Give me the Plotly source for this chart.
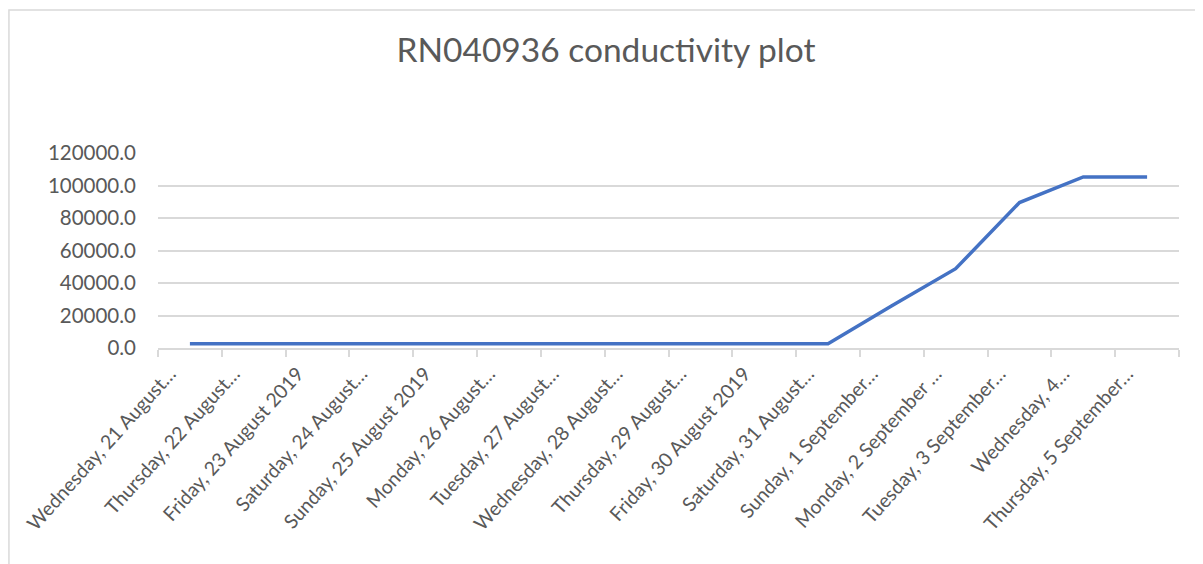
import plotly.graph_objects as go

dates = [
    "Wednesday, 21 August 2019", "Thursday, 22 August 2019", "Friday, 23 August 2019",
    "Saturday, 24 August 2019", "Sunday, 25 August 2019", "Monday, 26 August 2019",
    "Tuesday, 27 August 2019", "Wednesday, 28 August 2019", "Thursday, 29 August 2019",
    "Friday, 30 August 2019", "Saturday, 31 August 2019", "Sunday, 1 September 2019",
    "Monday, 2 September 2019", "Tuesday, 3 September 2019", "Wednesday, 4 September 2019",
    "Thursday, 5 September 2019",
]
tick_labels = [
    "Wednesday, 21 August…", "Thursday, 22 August…", "Friday, 23 August 2019",
    "Saturday, 24 August…", "Sunday, 25 August 2019", "Monday, 26 August…",
    "Tuesday, 27 August…", "Wednesday, 28 August…", "Thursday, 29 August…",
    "Friday, 30 August 2019", "Saturday, 31 August…", "Sunday, 1 September…",
    "Monday, 2 September …", "Tuesday, 3 September…", "Wednesday, 4…",
    "Thursday, 5 September…",
]
conductivity = [2600, 2600, 2600, 2600, 2600, 2600, 2600, 2600, 2600, 2600,
                2600, 26000, 48800, 89500, 105300, 105300]
y_ticks = [0, 20000, 40000, 60000, 80000, 100000, 120000]

fig = go.Figure(go.Scatter(
    x=dates, y=conductivity, mode="lines",
    line=dict(color="#4472C4", width=3.5), showlegend=False,
))

fig.update_layout(
    width=1195, height=556,
    margin=dict(l=150, r=24, t=145, b=216, autoexpand=False),
    paper_bgcolor="white", plot_bgcolor="white",
    font=dict(family="Lato, 'Open Sans', sans-serif", color="#595959", size=18),
    title=dict(text="RN040936 conductivity plot", x=0.5004, xanchor="center",
               y=1 - 42 / 556, yanchor="middle",
               font=dict(size=33.5, color="#595959")),
    xaxis=dict(
        type="category", tickmode="array", tickvals=dates, ticktext=tick_labels,
        range=[-0.5, 15.5], automargin=False,
        tickangle=-48, showgrid=False, showline=True, linecolor="#d9d9d9",
        linewidth=1.5, ticks="outside", tickson="boundaries", ticklen=7,
        tickcolor="#d9d9d9", tickwidth=1.5, tickfont=dict(size=19.5, color="#595959"),
        ticklabelshift=-20, ticklabelstandoff=5,
        fixedrange=True,
    ),
    yaxis=dict(
        range=[0, 120000], tickmode="array", tickvals=y_ticks, automargin=False,
        ticktext=[f"{v:.1f}" for v in y_ticks],
        showgrid=True, gridcolor="#d9d9d9", gridwidth=1.5, zeroline=False,
        showline=False, ticks="", ticklen=0, ticklabelstandoff=21,
        tickfont=dict(size=20.5, color="#595959"),
        fixedrange=True,
    ),
    shapes=[dict(type="rect", xref="paper", yref="paper",
                 x0=-0.146, x1=1.03, y0=-1.14, y1=1.733, layer="below",
                 line=dict(color="#d9d9d9", width=1.5))],
)

fig.write_html("out.html")
